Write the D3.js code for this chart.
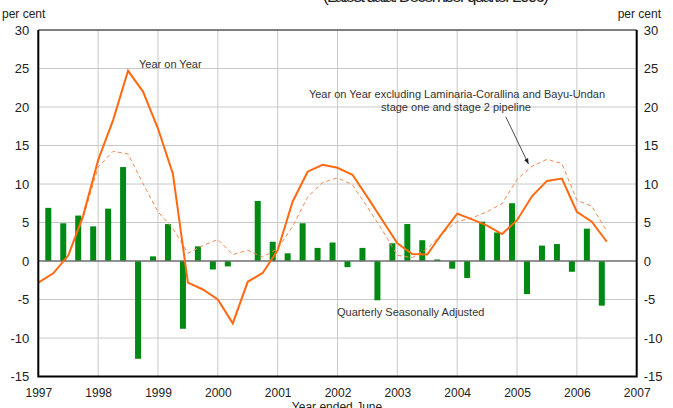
<!DOCTYPE html>
<html>
<head>
<meta charset="utf-8">
<script src="https://cdn.jsdelivr.net/npm/d3@7"></script>
<style>
  body { margin: 0; background: #fff; }
  svg { display: block; font-family: "Liberation Sans", Arial, sans-serif; }
</style>
</head>
<body>
<svg id="chart" width="673" height="408"></svg>
<script>
// quarterly growth, per cent
var quarterlySA = [6.9, 4.9, 5.9, 4.5, 6.8, 12.2, -12.7, 0.6, 4.8, -8.8,
  1.9, -1.1, -0.7, 0, 7.8, 2.5, 1.0, 4.9, 1.7, 2.4,
  -0.8, 1.7, -5.1, 2.3, 4.8, 2.7, 0.2, -1.0, -2.2, 5.1,
  3.7, 7.5, -4.3, 2.0, 2.2, -1.4, 4.2, -5.8];

var yearOnYear = [-2.8, -1.6, 0.7, 5.9, 13.1, 18.3, 24.7, 22.0, 17.2, 11.3,
  -2.8, -3.7, -5.0, -8.1, -2.7, -1.55, 1.4, 7.7, 11.6, 12.5,
  12.1, 11.2, 8.3, 5.3, 2.3, 0.9, 0.85, 3.6, 6.15, 5.4,
  4.6, 3.5, 5.3, 8.4, 10.4, 10.7, 6.4, 5.1, 2.5];

var yearOnYearExcl = [-2.8, -1.6, 0.7, 5.6, 12.2, 14.25, 13.9, 10.05, 6.4, 4.2,
  1.0, 2.0, 2.8, 0.83, 1.4, 0.5, 1.6, 4.5, 8.3, 10.2,
  10.8, 9.9, 7.0, 4.0, 0.74, 0.44, 1.6, 3.6, 5.1, 5.6,
  6.4, 7.45, 10.6, 12.3, 13.2, 12.65, 7.9, 7.1, 3.9];

var yearTicks = [1997, 1998, 1999, 2000, 2001, 2002, 2003, 2004, 2005, 2006, 2007];
var valueTicks = [-15, -10, -5, 0, 5, 10, 15, 20, 25, 30];

var firstQuarter = 1997;   // first line point
var barShift = 0.167;      // bars sit a bit right of the line points

var svg = d3.select("#chart");
// plot box (don't call these top/left, window.top is taken)
var pLeft = 38.3, pRight = 636.7, pTop = 30, pBottom = 376.5;

var x = d3.scaleLinear().domain([1997, 2007]).range([pLeft, pRight]);
var y = d3.scaleLinear().domain([-15, 30]).range([pBottom, pTop]);

function qx(i) { return x(firstQuarter + i * 0.25); }
// plain hyphen for negatives, like the original
function plain(d) { return String(d); }

// title, mostly cut off at the top
svg.append("text")
  .attr("x", 436).attr("y", 2)
  .attr("text-anchor", "middle")
  .attr("font-size", 17).attr("fill", "#222")
  .attr("textLength", 226)
  .text("(Latest data: December quarter 2006)");

// grid
svg.append("g").selectAll("line").data(yearTicks.slice(1, -1)).enter().append("line")
  .attr("x1", function(d) { return x(d); }).attr("x2", function(d) { return x(d); })
  .attr("y1", pTop).attr("y2", pBottom)
  .attr("stroke", "#c8c8c8").attr("stroke-width", 1);

svg.append("g").selectAll("line").data(valueTicks.filter(function(d) { return d != 0 && d != 30 && d != -15; }))
  .enter().append("line")
  .attr("x1", pLeft).attr("x2", pRight)
  .attr("y1", function(d) { return y(d); }).attr("y2", function(d) { return y(d); })
  .attr("stroke", "#c8c8c8").attr("stroke-width", 1);

// bars
svg.append("g").selectAll("rect").data(quarterlySA).enter().append("rect")
  .attr("x", function(d, i) { return x(firstQuarter + i * 0.25 + barShift) - 3; })
  .attr("width", 6)
  .attr("y", function(d) { return y(Math.max(0, d)); })
  .attr("height", function(d) { return Math.abs(y(d) - y(0)); })
  .attr("fill", "#008a14");

// zero line
svg.append("line")
  .attr("x1", pLeft).attr("x2", pRight)
  .attr("y1", y(0)).attr("y2", y(0))
  .attr("stroke", "#6e6e6e").attr("stroke-width", 1.6);

var line = d3.line()
  .x(function(d, i) { return qx(i); })
  .y(function(d) { return y(d); });

svg.append("path").datum(yearOnYearExcl)
  .attr("d", line)
  .attr("fill", "none")
  .attr("stroke", "#f08a50").attr("stroke-width", 1)
  .attr("stroke-dasharray", "4,3");

svg.append("path").datum(yearOnYear)
  .attr("d", line)
  .attr("fill", "none")
  .attr("stroke", "#ff6a10").attr("stroke-width", 2)
  .attr("stroke-linejoin", "miter");

// frame
svg.append("line").attr("x1", pLeft).attr("x2", pRight).attr("y1", pTop).attr("y2", pTop)
  .attr("stroke", "#555").attr("stroke-width", 1.5);
svg.append("path")
  .attr("d", "M" + pLeft + "," + pTop + "V" + pBottom + "H" + pRight + "V" + pTop)
  .attr("fill", "none").attr("stroke", "#000").attr("stroke-width", 2);

// axes
var yLeft = d3.axisLeft(y).tickValues(valueTicks).tickFormat(plain).tickSize(0).tickPadding(9);
var gl = svg.append("g").attr("transform", "translate(" + pLeft + ",0)").call(yLeft);
gl.select(".domain").remove();
gl.selectAll("text").attr("font-size", 13).attr("fill", "#222")
  .attr("font-family", "Liberation Sans, Arial, sans-serif");

var yRight = d3.axisRight(y).tickValues(valueTicks).tickFormat(plain).tickSize(0).tickPadding(7);
var gr = svg.append("g").attr("transform", "translate(" + pRight + ",0)").call(yRight);
gr.select(".domain").remove();
gr.selectAll("text").attr("font-size", 13).attr("fill", "#222")
  .attr("font-family", "Liberation Sans, Arial, sans-serif");

var xAxis = d3.axisBottom(x).tickValues(yearTicks).tickFormat(plain).tickSize(0).tickPadding(12);
var gx = svg.append("g").attr("transform", "translate(0," + pBottom + ")").call(xAxis);
gx.select(".domain").remove();
gx.selectAll("text").attr("font-size", 12).attr("fill", "#222")
  .attr("font-family", "Liberation Sans, Arial, sans-serif");

// axis titles
svg.append("text").attr("x", 2).attr("y", 18).attr("font-size", 12).attr("fill", "#222").text("per cent");
svg.append("text").attr("x", 661).attr("y", 18).attr("text-anchor", "end")
  .attr("font-size", 12).attr("fill", "#222").text("per cent");
svg.append("text").attr("x", 337).attr("y", 411).attr("text-anchor", "middle")
  .attr("font-size", 12).attr("fill", "#222").text("Year ended June");

// labels
svg.append("text").attr("x", 139).attr("y", 68).attr("font-size", 11).attr("fill", "#333")
  .text("Year on Year");
svg.append("text").attr("x", 457).attr("y", 98).attr("text-anchor", "middle")
  .attr("font-size", 11).attr("fill", "#333")
  .text("Year on Year excluding Laminaria-Corallina and Bayu-Undan");
svg.append("text").attr("x", 456).attr("y", 111).attr("text-anchor", "middle")
  .attr("font-size", 11).attr("fill", "#333")
  .text("stage one and stage 2 pipeline");
svg.append("text").attr("x", 337).attr("y", 316).attr("font-size", 11).attr("fill", "#333")
  .text("Quarterly Seasonally Adjusted");

// arrow to the dashed line
svg.append("defs").append("marker")
  .attr("id", "arr").attr("viewBox", "0 0 10 10")
  .attr("refX", 10).attr("refY", 5)
  .attr("markerWidth", 7).attr("markerHeight", 7)
  .attr("orient", "auto")
  .append("path").attr("d", "M0,1L10,5L0,9z").attr("fill", "#222");
svg.append("line")
  .attr("x1", 505.7).attr("y1", 116.7).attr("x2", 528.5).attr("y2", 164)
  .attr("stroke", "#222").attr("stroke-width", 0.8)
  .attr("marker-end", "url(#arr)");
</script>
</body>
</html>
